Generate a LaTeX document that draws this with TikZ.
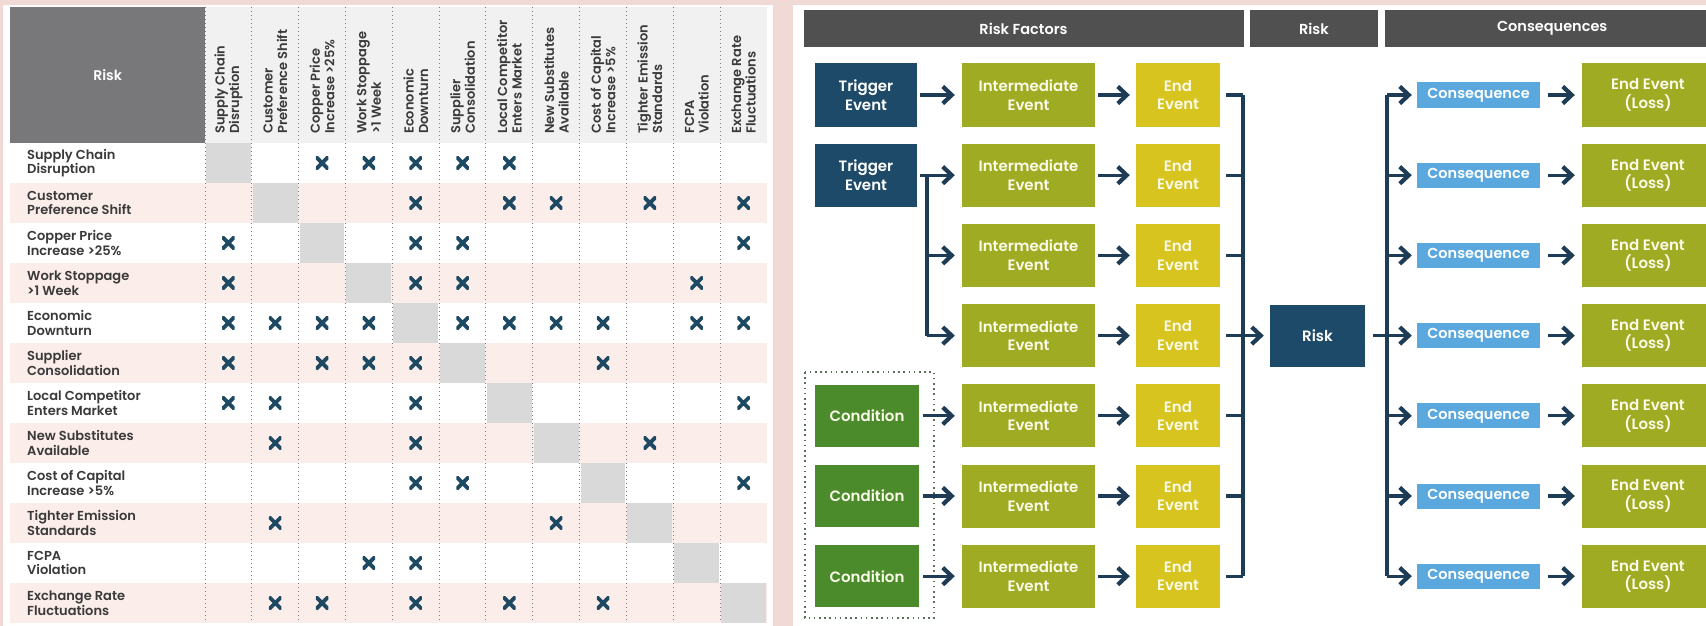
\documentclass[tikz,border=0pt]{standalone}
\usepackage{fontspec}
\IfFontExistsTF{Poppins SemiBold}{\setmainfont{Poppins}[BoldFont={Poppins SemiBold}]}{\setmainfont{Poppins}}
\usetikzlibrary{arrows.meta}
\definecolor{bgpink}{HTML}{F1DAD6}
\definecolor{hdrgray}{HTML}{78787B}
\definecolor{colhdr}{HTML}{F1F1F1}
\definecolor{stripe}{HTML}{FBEDE9}
\definecolor{diag}{HTML}{D9D9D9}
\definecolor{sepc}{HTML}{7A7A7A}
\definecolor{labc}{HTML}{3A3A3A}
\definecolor{xcol}{HTML}{1D4A62}
\definecolor{hdrdark}{HTML}{505050}
\definecolor{navy}{HTML}{1C4A68}
\definecolor{olive}{HTML}{A0AB24}
\definecolor{mustard}{HTML}{D8C41F}
\definecolor{condgreen}{HTML}{4B8B2B}
\definecolor{consblue}{HTML}{5AA8DE}
\definecolor{arrowc}{HTML}{1E3C56}
\definecolor{dotc}{HTML}{5A6E5A}
\definecolor{boxtext}{HTML}{FBFBEA}
\tikzset{
  rowlab/.style={align=left, inner sep=0, text=labc, font=\bfseries\fontsize{13}{14.5}\selectfont},
  collab/.style={align=left, inner sep=0, text=labc, font=\bfseries\fontsize{13}{14.5}\selectfont},
  sepline/.style={draw=sepc, line width=1pt, dash pattern=on 1pt off 3pt},
  xmark/.style={minimum size=12.5pt, inner sep=0, path picture={
      \draw[xcol, line width=3.8pt]
        (path picture bounding box.south west) -- (path picture bounding box.north east)
        (path picture bounding box.north west) -- (path picture bounding box.south east);}},
  box/.style={inner sep=0, minimum height=63pt, align=center, text=boxtext,
      font=\bfseries\fontsize{15}{18.5}\selectfont},
  trig/.style={box, fill=navy, minimum width=102pt, text=white},
  cond/.style={box, fill=condgreen, minimum width=104pt, minimum height=62pt},
  inter/.style={box, fill=olive, minimum width=133pt},
  endev/.style={box, fill=mustard, minimum width=84pt},
  cons/.style={inner sep=0, minimum height=25pt, minimum width=123pt, fill=consblue,
      text=white, font=\bfseries\fontsize{14.5}{16}\selectfont},
  loss/.style={box, fill=olive, minimum width=132pt},
  riskbox/.style={box, fill=navy, minimum width=95pt, minimum height=62pt, text=white},
  hdr/.style={fill=hdrdark, text=white, minimum height=37pt, inner sep=0,
      font=\bfseries\fontsize{14.5}{16}\selectfont},
  link/.style={draw=arrowc, line width=3.2pt},
  arr/.style={link, -{Straight Barb[length=9pt, width=17pt, line width=4.2pt]}},
}
\begin{document}
\begin{tikzpicture}[x=1pt, y=-1pt]
\useasboundingbox (0,0) rectangle (1706,626);
\clip (0,0) rectangle (1706,626);
\fill[bgpink] (0,0) rectangle (1706,626);
\fill[white] (3,5) rectangle (773,626);
\fill[white] (793,5) rectangle (1706,626);

% ---------------- left: risk matrix ----------------
\def\cw{46.83}
\fill[colhdr] (205,7) rectangle (767,143);
\foreach \i in {2,4,...,12}
  \fill[stripe] (10,{143+40*(\i-1)}) rectangle (767,{143+40*\i});
\foreach \i in {1,...,12}
  \fill[diag] ({205+\cw*(\i-1)+1},{143+40*(\i-1)}) rectangle ({205+\cw*\i-1},{143+40*\i});
\foreach \j in {0,...,11}
  \draw[sepline] ({205+\cw*\j},7) -- ({205+\cw*\j},623);
\node[anchor=north west, fill=hdrgray, minimum width=195pt, minimum height=136pt, inner sep=0,
      text=white, font=\bfseries\fontsize{14}{16}\selectfont] (riskhdr) at (10,7) {Risk};

\foreach \i/\t in {1/{Supply Chain\\Disruption}, 2/{Customer\\Preference Shift},
    3/{Copper Price\\Increase >25\%}, 4/{Work Stoppage\\>1 Week},
    5/{Economic\\Downturn}, 6/{Supplier\\Consolidation},
    7/{Local Competitor\\Enters Market}, 8/{New Substitutes\\Available},
    9/{Cost of Capital\\Increase >5\%}, 10/{Tighter Emission\\Standards},
    11/{FCPA\\Violation}, 12/{Exchange Rate\\Fluctuations}} {
  \node[rowlab, anchor=west] (rl\i) at (27,{163+40*(\i-1)}) {\t};
  \node[collab, rotate=90, anchor=west] (cl\i) at ({205+\cw*(\i-0.5)},134) {\t};
}

\foreach \r/\cols in {1/{3,4,5,6,7}, 2/{5,7,8,10,12}, 3/{1,5,6,12}, 4/{1,5,6,11},
    5/{1,2,3,4,6,7,8,9,11,12}, 6/{1,3,4,5,9}, 7/{1,2,5,12}, 8/{2,5,10},
    9/{5,6,12}, 10/{2,8}, 11/{4,5}, 12/{2,3,5,7,9}} {
  \foreach \c in \cols
    \node[xmark] (x\r-\c) at ({205+\cw*(\c-0.5)},{163+40*(\r-1)}) {};
}

% ---------------- right: bow-tie ----------------
\node[hdr, minimum width=440pt] (hrf) at (1023.5,28.5) {Risk Factors};
\node[hdr, minimum width=128pt] (hrisk) at (1314,28.5) {Risk};
\node[hdr, minimum width=334pt, anchor=west] (hcons) at (1385,28.5) {Consequences};

\node[trig] (trig1) at (866,95) {Trigger\\Event};
\node[trig] (trig2) at (866,175.2) {Trigger\\Event};
\node[cond] (cond5) at (867,415.8) {Condition};
\node[cond] (cond6) at (867,496) {Condition};
\node[cond] (cond7) at (867,576.2) {Condition};

\foreach \k/\y in {1/95,2/175.2,3/255.4,4/335.6,5/415.8,6/496,7/576.2} {
  \node[inter] (int\k) at (1028.5,\y) {Intermediate\\Event};
  \node[endev] (end\k) at (1178,\y) {End\\Event};
  \node[cons] (cons\k) at (1478.5,\y) {Consequence};
  \node[loss] (loss\k) at (1648,\y) {End Event\\(Loss)};
}
\node[riskbox] (risk) at (1317.5,335.6) {Risk};

% condition group
\draw[dotc, line width=2pt, dash pattern=on 1.6pt off 3.6pt] (805,372) rectangle (934,618);

% trigger / condition -> intermediate
\draw[arr, shorten <=3pt, shorten >=7pt] (trig1) -- (int1);
\draw[arr, shorten <=3pt, shorten >=7pt] (trig2) -- (int2);
\coordinate (tb) at (927,0);
\draw[link] (trig2.east -| tb) -- (int4.west -| tb);
\draw[arr, shorten >=7pt] (int3.west -| tb) -- (int3.west);
\draw[arr, shorten >=7pt] (int4.west -| tb) -- (int4.west);
\foreach \k in {5,6,7}
  \draw[arr, shorten <=4pt, shorten >=7pt] (cond\k) -- (int\k);

% intermediate -> end
\foreach \k in {1,...,7}
  \draw[arr, shorten <=3pt, shorten >=6pt] (int\k) -- (end\k);

% end events -> risk
\coordinate (rb) at (1243,0);
\draw[link] (end1.east -| rb) -- (end7.east -| rb);
\foreach \k in {1,2,3,5,6,7}
  \draw[link] ([xshift=6pt]end\k.east) -- (end\k.east -| rb);
\draw[arr, shorten <=6pt, shorten >=6pt] (end4) -- (risk);

% risk -> consequences
\coordinate (cb) at (1387,0);
\draw[link] (cons1.west -| cb) -- (cons7.west -| cb);
\draw[arr, shorten <=8pt, shorten >=5pt] (risk) -- (cons4);
\foreach \k in {1,2,3,5,6,7}
  \draw[arr, shorten >=5pt] (cons\k.west -| cb) -- (cons\k.west);

% consequences -> loss
\foreach \k in {1,...,7}
  \draw[arr, shorten <=8pt, shorten >=7pt] (cons\k) -- (loss\k);
\end{tikzpicture}
\end{document}
